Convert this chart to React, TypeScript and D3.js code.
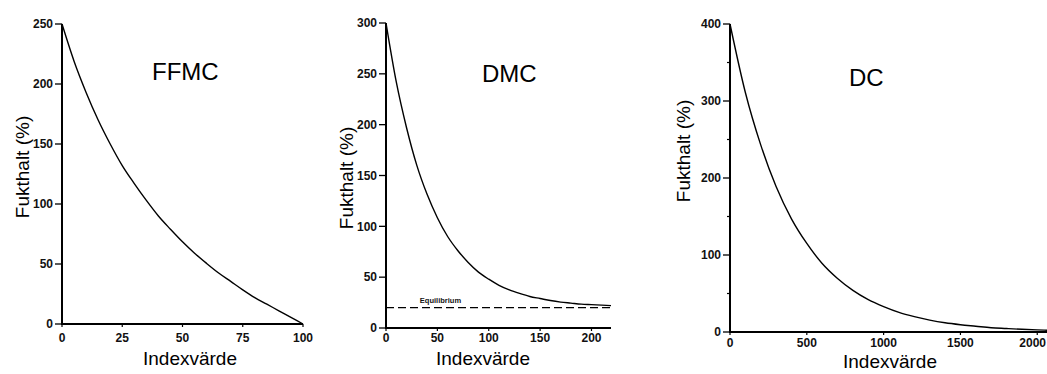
import React from "react";
import * as d3 from "d3";

// ---- data ----
const ffmcIndex = [0, 5, 10, 15, 20, 25, 30, 35, 40, 45, 50, 55, 60, 65, 70, 75, 80, 85, 90, 95, 100];
const ffmcMoisture = [250, 219, 193, 170, 150, 132, 117, 103, 90, 79, 68.5, 59, 50.5, 42.5, 35.5, 28.5, 22, 16.5, 11, 5.5, 0];

const dmcIndex = [0, 10, 20, 30, 40, 50, 60, 70, 80, 90, 100, 110, 120, 130, 140, 150, 160, 170, 180, 190, 200, 210, 219];
const dmcMoisture = [300, 242, 197, 160, 131.5, 108.5, 90, 76, 64.5, 55, 48, 42, 37.5, 34, 31, 29, 27, 25.5, 24.5, 23.5, 23, 22.5, 22];
const dmcEquilibrium = 20;

const dcIndex = [0, 100, 200, 300, 400, 500, 600, 700, 800, 900, 1000, 1100, 1200, 1300, 1400, 1500, 1600, 1700, 1800, 1900, 2000, 2070];
const dcMoisture = [400, 311, 243, 189, 147, 115, 89, 69.5, 54, 42, 33, 25.5, 20, 15.5, 12, 9.5, 7.5, 5.5, 4.5, 3.5, 2.7, 2.3];

const ffmcXTicks = [0, 25, 50, 75, 100];
const ffmcYTicks = [0, 50, 100, 150, 200, 250];
const dmcXTicks = [0, 50, 100, 150, 200];
const dmcYTicks = [0, 50, 100, 150, 200, 250, 300];
const dcXTicks = [0, 500, 1000, 1500, 2000];
const dcYTicks = [0, 100, 200, 300, 400];
const dcYMinorTicks = [50, 150, 250, 350];

const titles = ["FFMC", "DMC", "DC"];
const yAxisLabel = "Fukthalt (%)";
const xAxisLabel = "Indexvärde";
const equilibriumLabel = "Equilibrium";

const FONT = "'Liberation Sans', Arial, Helvetica, sans-serif";
const W = 1047;

type Panel = {
  title: string;
  xs: number[];
  ys: number[];
  xDomain: [number, number];
  xRange: [number, number];
  yDomain: [number, number];
  yRange: [number, number];
  xTicks: number[];
  yTicks: number[];
  yMinor?: number[];
  titlePos: [number, number];
  yLabelPos: [number, number];
  xLabelPos: [number, number];
  xTickBase: number;
  equilibrium?: number;
};

const panels: Panel[] = [
  {
    title: titles[0],
    xs: ffmcIndex,
    ys: ffmcMoisture,
    xDomain: [0, 100],
    xRange: [62, 303],
    yDomain: [0, 250],
    yRange: [324, 24],
    xTicks: ffmcXTicks,
    yTicks: ffmcYTicks,
    titlePos: [152, 80],
    yLabelPos: [29, 167],
    xLabelPos: [190, 365],
    xTickBase: 342,
  },
  {
    title: titles[1],
    xs: dmcIndex,
    ys: dmcMoisture,
    xDomain: [0, 219],
    xRange: [386, 611],
    yDomain: [0, 300],
    yRange: [328, 23],
    xTicks: dmcXTicks,
    yTicks: dmcYTicks,
    titlePos: [482, 82],
    yLabelPos: [353, 178],
    xLabelPos: [483, 365],
    xTickBase: 342,
    equilibrium: dmcEquilibrium,
  },
  {
    title: titles[2],
    xs: dcIndex,
    ys: dcMoisture,
    xDomain: [0, 2070],
    xRange: [730, 1048],
    yDomain: [0, 400],
    yRange: [332, 24],
    xTicks: dcXTicks,
    yTicks: dcYTicks,
    yMinor: dcYMinorTicks,
    titlePos: [849, 86],
    yLabelPos: [690, 151],
    xLabelPos: [890, 368],
    xTickBase: 347,
  },
];

function PanelView({ p }: { p: Panel }) {
  const x = d3.scaleLinear().domain(p.xDomain).range(p.xRange);
  const y = d3.scaleLinear().domain(p.yDomain).range(p.yRange);
  const pts = p.xs.map((v, i) => [v, p.ys[i]] as [number, number]);
  const line = d3
    .line<[number, number]>()
    .x((d) => x(d[0]))
    .y((d) => y(d[1]))
    .curve(d3.curveMonotoneX);
  const x0 = x(p.xDomain[0]);
  const x1 = x(p.xDomain[1]);
  const y0 = y(p.yDomain[0]);
  const y1 = y(p.yDomain[1]);
  return (
    <g>
      {/* axes */}
      <line x1={x0} x2={x0} y1={y1} y2={y0 + 1} stroke="#000" strokeWidth={2} />
      <line x1={x0 - 1} x2={x1} y1={y0} y2={y0} stroke="#000" strokeWidth={2} />
      {/* y ticks */}
      {p.yTicks.map((t) => (
        <g key={"y" + t}>
          <line x1={x0 - 7} x2={x0} y1={y(t)} y2={y(t)} stroke="#000" strokeWidth={1.3} />
          <text
            x={x0 - 9}
            y={y(t)}
            dy="0.35em"
            textAnchor="end"
            fontSize={12}
            fontWeight="bold"
            fontFamily={FONT}
            fill="#111"
          >
            {t}
          </text>
        </g>
      ))}
      {(p.yMinor || []).map((t) => (
        <line key={"m" + t} x1={x0 - 3} x2={x0} y1={y(t)} y2={y(t)} stroke="#000" strokeWidth={1.2} />
      ))}
      {/* x ticks */}
      {p.xTicks.map((t) => {
        const cx = x(t);
        const overflow = cx + 14 > W;
        return (
          <g key={"x" + t}>
            <line x1={cx} x2={cx} y1={y0} y2={y0 + 3} stroke="#000" strokeWidth={1.2} />
            <text
              x={overflow ? W - 1 : cx}
              y={p.xTickBase}
              textAnchor={overflow ? "end" : "middle"}
              fontSize={12}
              fontWeight="bold"
              fontFamily={FONT}
              fill="#111"
            >
              {t}
            </text>
          </g>
        );
      })}
      {/* equilibrium */}
      {p.equilibrium !== undefined && (
        <g>
          <line
            x1={x0}
            x2={x1}
            y1={y(p.equilibrium)}
            y2={y(p.equilibrium)}
            stroke="#000"
            strokeWidth={1.4}
            strokeDasharray="8,4"
          />
          <text
            x={x(53)}
            y={y(p.equilibrium) - 5}
            textAnchor="middle"
            fontSize={7.5}
            fontWeight="bold"
            fontFamily={FONT}
            fill="#111"
          >
            {equilibriumLabel}
          </text>
        </g>
      )}
      {/* curve */}
      <path d={line(pts) || ""} fill="none" stroke="#000" strokeWidth={1.4} />
      {/* labels */}
      <text x={p.titlePos[0]} y={p.titlePos[1]} fontSize={24} fontFamily={FONT} fill="#000">
        {p.title}
      </text>
      <text
        transform={`translate(${p.yLabelPos[0]},${p.yLabelPos[1]}) rotate(-90)`}
        textAnchor="middle"
        fontSize={19}
        fontFamily={FONT}
        fill="#000"
      >
        {yAxisLabel}
      </text>
      <text
        x={p.xLabelPos[0]}
        y={p.xLabelPos[1]}
        textAnchor="middle"
        fontSize={19}
        fontFamily={FONT}
        fill="#000"
      >
        {xAxisLabel}
      </text>
    </g>
  );
}

export default function App() {
  return (
    <svg
      width={W}
      height={374}
      style={{ position: "absolute", left: 0, top: 0, display: "block", background: "#fff" }}
    >
      <rect x={0} y={0} width={W} height={374} fill="#fff" />
      {panels.map((p) => (
        <PanelView key={p.title} p={p} />
      ))}
    </svg>
  );
}
